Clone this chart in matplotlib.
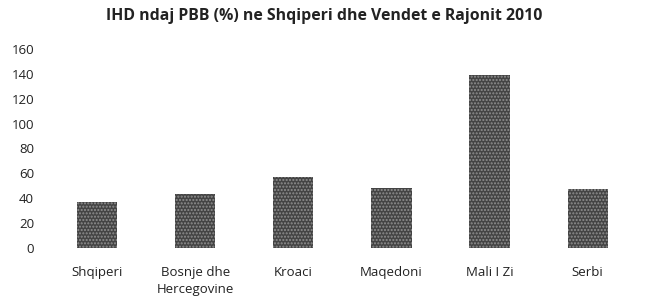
import matplotlib.pyplot as plt
import numpy as np

vendet = ['Shqiperi', 'Bosnje dhe\nHercegovine', 'Kroaci', 'Maqedoni', 'Mali I Zi', 'Serbi']
ihd = [37, 43.5, 57, 48, 139, 47.5]
yticks = [0, 20, 40, 60, 80, 100, 120, 140, 160]

plt.rcParams['font.family'] = ['Open Sans', 'DejaVu Sans']
plt.close("all")
fig = plt.figure(figsize=(6.49, 2.98), dpi=100)
ax = fig.add_axes([0.074, 0.168, 0.907, 0.668])

x = np.arange(len(vendet))
ax.bar(x, ihd, width=0.41, color='#444444', edgecolor='#8f8f8f',
       hatch='.....', linewidth=0)

ax.set_xlim(-0.5, len(vendet) - 0.5)
ax.set_ylim(0, 160)
ax.set_yticks(yticks)
ax.set_xticks(x)
ax.set_xticklabels(vendet, fontsize=9.5, color='#222222', linespacing=1.4)
ax.tick_params(axis='y', labelsize=9.5, colors='#222222', length=0, pad=10)
ax.tick_params(axis='x', length=0, pad=13)
for s in ax.spines.values():
    s.set_visible(False)

fig.text(0.5, 0.945, 'IHD ndaj PBB (%) ne Shqiperi dhe Vendet e Rajonit 2010',
         ha='center', va='center', fontsize=11.4, fontweight='bold', color='#222222')

fig.savefig('out.png', dpi=100)
